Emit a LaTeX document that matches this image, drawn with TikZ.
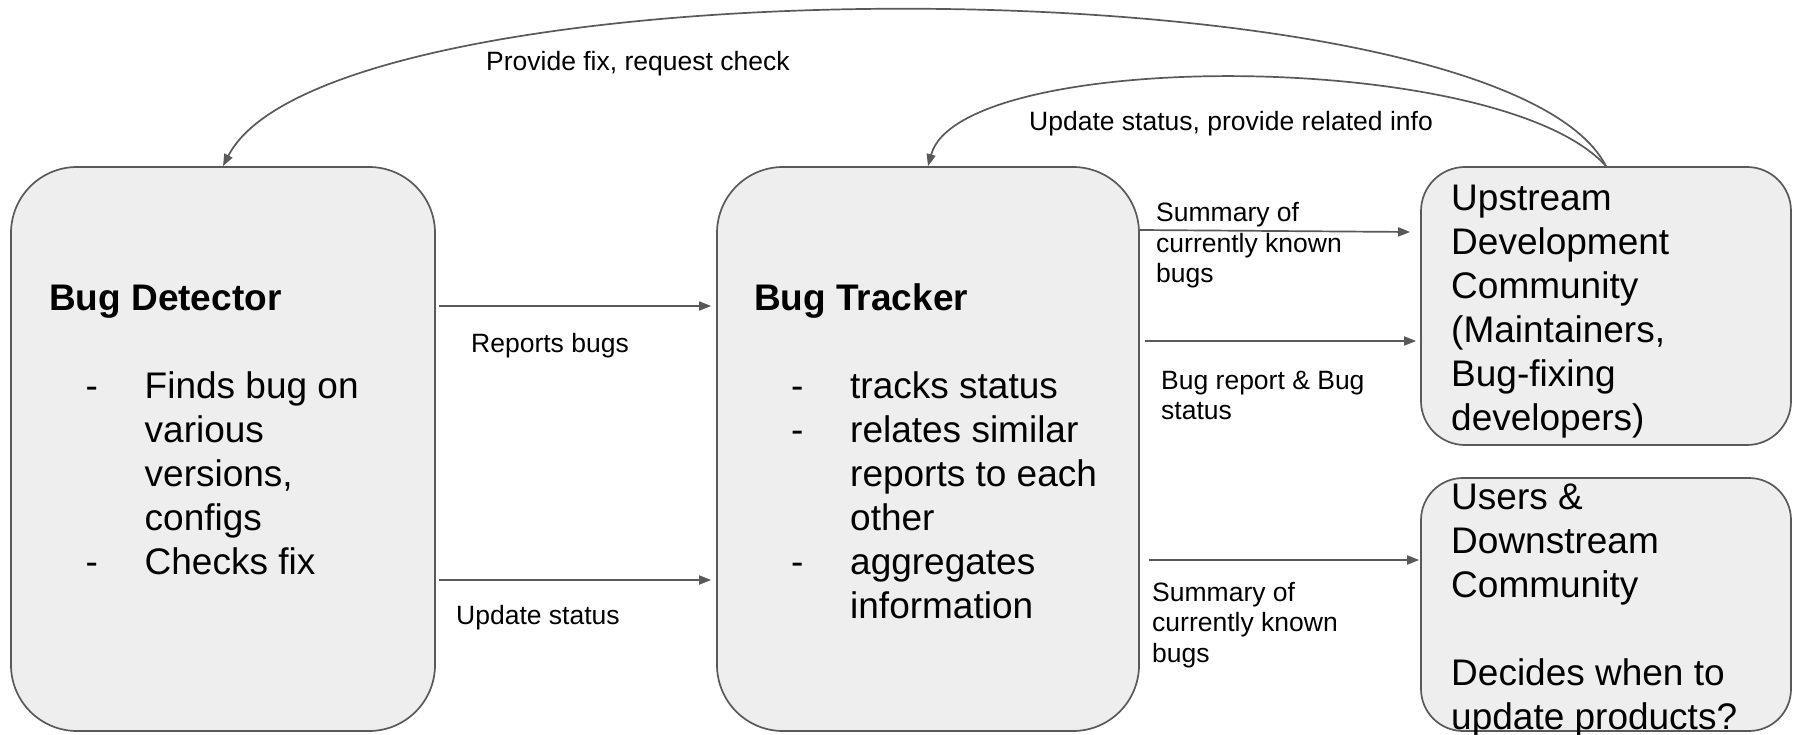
\documentclass[tikz,border=0pt]{standalone}
\usepackage{fontspec}
\setmainfont{Liberation Sans}[Ligatures=NoCommon]
\usetikzlibrary{arrows.meta,calc}
\definecolor{edge}{HTML}{595959}
\definecolor{panel}{HTML}{EEEEEE}
% stacked lines, baseline of the whole block = baseline of the first line
\newcommand{\linesof}[1]{\vtop{\halign{##\hfil\cr#1\crcr}}}
% dash list: fixed-width dash column, then the item text
\newcommand{\dashlist}[1]{\vtop{\halign{\hbox to 59pt{##\hfil}&##\hfil\cr#1\crcr}}}
\tikzset{
  panelbox/.style={draw=edge, fill=panel, line width=1.7pt, inner sep=0pt},
  bigtext/.style={anchor=base west, inner sep=0pt, font=\fontsize{37}{44}\selectfont},
  titletext/.style={anchor=base west, inner sep=0pt, font=\fontsize{37}{44}\selectfont\bfseries},
  lbl/.style={anchor=base west, inner sep=0pt, font=\fontsize{26.5}{30.5}\selectfont},
  flow/.style={draw=edge, line width=1.7pt, -{Triangle[length=12pt,width=9pt]}},
}
\begin{document}
\begin{tikzpicture}[x=1pt,y=-1pt]
\useasboundingbox (0,0) rectangle (1793,735);

% boxes
\node[panelbox, rounded corners=66pt, minimum width=424pt, minimum height=564pt] (det) at (223,449) {};
\node[panelbox, rounded corners=66pt, minimum width=422pt, minimum height=564pt] (trk) at (928,449) {};
\node[panelbox, rounded corners=44pt, minimum width=370pt, minimum height=278pt] (ups) at (1606,306) {};
\node[panelbox, rounded corners=42pt, minimum width=370pt, minimum height=253pt] (usr) at (1606,604.5) {};

% box contents
\node[titletext] (detT) at (49,310) {Bug Detector};
\node[bigtext] (detL) at (85.5,398) {\dashlist{-&Finds bug on\cr &various\cr &versions,\cr &configs\cr -&Checks fix}};
\node[titletext] (trkT) at (754,310) {Bug Tracker};
\node[bigtext] (trkL) at (791,398) {\dashlist{-&tracks status\cr -&relates similar\cr &reports to each\cr &other\cr -&aggregates\cr &information}};
\node[bigtext] (upsT) at (1451,211) {\linesof{Upstream\cr Development\cr Community\cr (Maintainers,\cr Bug-fixing\cr developers)}};
\node[bigtext] (usrT) at (1451,509) {\linesof{Users \&\cr Downstream\cr Community\cr\cr Decides when to\cr update products?}};

% rows of the straight connectors
\coordinate (rowA) at (0,306);
\coordinate (rowB) at (0,580);
\coordinate (rowC) at (0,230);
\coordinate (rowCe) at (0,232);
\coordinate (rowD) at (0,341);
\coordinate (rowE) at (0,560);

% straight connectors
\draw[flow] ($(det.east|-rowA)+(3,0)$) -- ($(trk.west|-rowA)+(-5,0)$);
\draw[flow] ($(det.east|-rowB)+(3,0)$) -- ($(trk.west|-rowB)+(-5,0)$);
\draw[flow] (trk.east|-rowC) -- ($(ups.west|-rowCe)+(-10,0)$);
\draw[flow] ($(trk.east|-rowD)+(5,0)$) -- ($(ups.west|-rowD)+(-4,0)$);
\draw[flow] ($(trk.east|-rowE)+(9,0)$) -- ($(usr.west|-rowE)+(-1,0)$);

% curved feedback connectors
\draw[flow] (ups.north) .. controls (1500,-42) and (330,-42) .. (det.north);
\draw[flow] (ups.north) .. controls (1500,48) and (960,48) .. (trk.north);

% connector labels
\node[lbl] (lProv) at (486,71) {Provide fix, request check};
\node[lbl] (lUpd) at (1029,131) {Update status, provide related info};
\node[lbl] (lRep) at (471,352) {Reports bugs};
\node[lbl] (lUst) at (456,624) {Update status};
\node[lbl] (lSumA) at (1156,222) {\linesof{Summary of\cr currently known\cr bugs}};
\node[lbl] (lBug) at (1161,389) {\linesof{Bug report \& Bug\cr status}};
\node[lbl] (lSumB) at (1152,601) {\linesof{Summary of\cr currently known\cr bugs}};
\end{tikzpicture}
\end{document}
